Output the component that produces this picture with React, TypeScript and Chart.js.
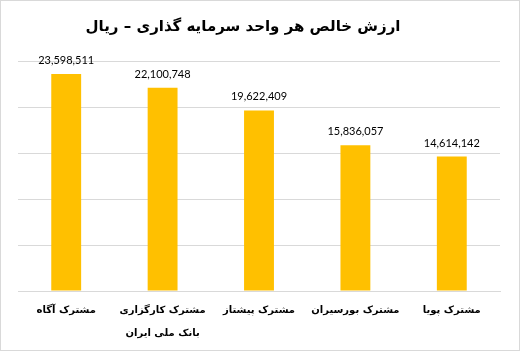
import React, { useEffect, useRef } from "react";
import { Chart, registerables } from "chart.js";

Chart.register(...registerables);

const titleText = "ارزش خالص هر واحد سرمایه گذاری – ریال";
const categories: (string | string[])[] = [
  "مشترک آگاه",
  ["مشترک کارگزاری", "بانک ملی ایران"],
  "مشترک پیشتاز",
  "مشترک بورسیران",
  "مشترک پویا",
];
const values = [23598511, 22100748, 19622409, 15836057, 14614142];
const yMax = 25000000;
const yStep = 5000000;

const valueLabels = {
  id: "valueLabels",
  afterDatasetsDraw(chart: any) {
    const ctx = chart.ctx;
    const meta = chart.getDatasetMeta(0);
    ctx.save();
    ctx.font = "11px Lato";
    ctx.fillStyle = "#000000";
    ctx.textAlign = "center";
    ctx.textBaseline = "alphabetic";
    meta.data.forEach((bar: any, i: number) => {
      ctx.fillText(values[i].toLocaleString("en-US"), bar.x, bar.y - 10);
    });
    ctx.restore();
  },
};

const titleAndFrame = {
  id: "titleAndFrame",
  afterDraw(chart: any) {
    const ctx = chart.ctx;
    ctx.save();
    ctx.font = "bold 15px 'DejaVu Sans'";
    ctx.fillStyle = "#000000";
    ctx.textAlign = "center";
    ctx.textBaseline = "middle";
    ctx.fillText(titleText, 243, 27);
    ctx.strokeStyle = "#d9d9d9";
    ctx.lineWidth = 1;
    ctx.strokeRect(0.5, 0.5, chart.width - 1, chart.height - 1);
    ctx.restore();
  },
};

export default function App() {
  const ref = useRef<HTMLCanvasElement>(null);
  useEffect(() => {
    document.body.style.margin = "0";
    const chart = new Chart(ref.current!, {
      type: "bar",
      data: {
        labels: categories,
        datasets: [
          {
            data: values,
            backgroundColor: "#FFC000",
            barPercentage: 0.31,
            categoryPercentage: 1,
          },
        ],
      },
      options: {
        animation: false,
        responsive: false,
        layout: { padding: { left: 18, right: 20, top: 61, bottom: -2 } },
        plugins: {
          legend: { display: false },
          tooltip: { enabled: false },
          title: { display: false },
        },
        scales: {
          x: {
            grid: { display: false, drawTicks: false },
            border: { display: true, color: "#d9d9d9" },
            ticks: {
              color: "#000000",
              font: { family: "DejaVu Sans", size: 10, weight: "bold", lineHeight: 2.3 },
              padding: 8,
              maxRotation: 0,
              autoSkip: false,
            },
          },
          y: {
            min: 0,
            max: yMax,
            ticks: { display: false, stepSize: yStep },
            grid: { color: "#d9d9d9", drawTicks: false },
            border: { display: false },
          },
        },
      },
      plugins: [valueLabels, titleAndFrame],
    });
    return () => chart.destroy();
  }, []);
  return (
    <div style={{ position: "absolute", left: 0, top: 0, width: 520, height: 351 }}>
      <canvas ref={ref} width={520} height={351} style={{ display: "block" }} />
    </div>
  );
}
